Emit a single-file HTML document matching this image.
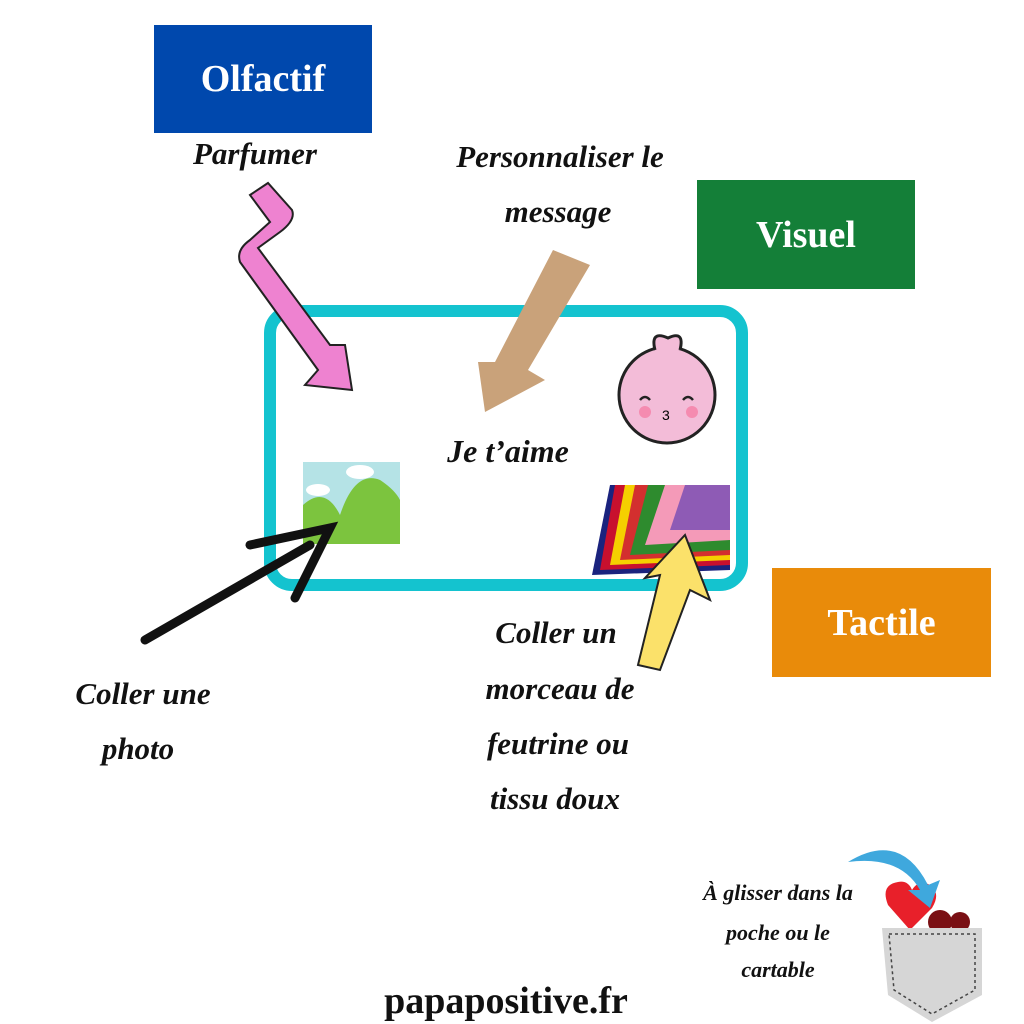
<!DOCTYPE html>
<html><head><meta charset="utf-8"><style>
body{margin:0;width:1024px;height:1024px;background:#fff;position:relative;overflow:hidden;font-family:"Liberation Serif",serif}
.b{position:absolute;color:#fff;font-weight:bold;font-size:38px;display:flex;align-items:center;justify-content:center}
.t{position:absolute;transform:translateX(-50%);white-space:nowrap;font-style:italic;font-weight:bold;color:#111;font-size:31px;font-family:"Liberation Serif",serif;line-height:1}
</style></head><body>
<div class="b" style="left:154px;top:25px;width:218px;height:108px;background:#0048ad">Olfactif</div>
<div class="b" style="left:697px;top:180px;width:218px;height:109px;background:#147f38">Visuel</div>
<div class="b" style="left:772px;top:568px;width:219px;height:109px;background:#e98b0a">Tactile</div>
<svg width="1024" height="1024" style="position:absolute;left:0;top:0">
<rect x="270" y="311" width="472" height="274" rx="22" fill="none" stroke="#14c3cf" stroke-width="12"/>
<path d="M250 195 L268 183 L292 210 Q296 220 280 232 L258 248 L330 345 L345 345 L352 390 L305 385 L318 370 L240 262 Q236 250 250 240 L270 222Z" fill="#ee82d0" stroke="#222" stroke-width="2"/>
<path d="M553 250 L590 265 L528 370 L545 380 L485 412 L478 362 L495 362Z" fill="#c9a27a"/>
<circle cx="667" cy="395" r="48" fill="#f3bcd8" stroke="#222" stroke-width="3"/>
<path d="M655 350 Q650 330 668 338 Q685 330 680 350" fill="#f3bcd8" stroke="#222" stroke-width="3"/>
<circle cx="645" cy="412" r="6" fill="#f58bb0"/><circle cx="692" cy="412" r="6" fill="#f58bb0"/>
<path d="M640 400 q5 -6 10 0 M683 400 q5 -6 10 0" stroke="#222" stroke-width="2.5" fill="none"/>
<text x="662" y="420" font-size="14" font-family="Liberation Sans">3</text>
<rect x="303" y="462" width="97" height="82" fill="#b5e3e6"/>
<path d="M303 544 L303 505 Q325 485 340 515 Q355 470 380 480 Q395 490 400 500 L400 544Z" fill="#7cc43e"/>
<ellipse cx="360" cy="472" rx="14" ry="7" fill="#fff"/><ellipse cx="318" cy="490" rx="12" ry="6" fill="#fff"/>
<g>
<path d="M592 575 L610 485 L730 485 L730 570Z" fill="#1a237e"/>
<path d="M600 570 L615 485 L730 485 L730 565Z" fill="#c8102e"/>
<path d="M610 565 L625 485 L730 485 L730 560Z" fill="#f5d000"/>
<path d="M620 560 L635 485 L730 485 L730 555Z" fill="#d32f2f"/>
<path d="M630 555 L648 485 L730 485 L730 550Z" fill="#2e8b2e"/>
<path d="M645 545 L665 485 L730 485 L730 540Z" fill="#f49ab8"/>
<path d="M670 530 L685 485 L730 485 L730 530Z" fill="#8e5bb5"/>
</g>
<path d="M145 640 L310 545 M250 545 L330 528 L295 598" stroke="#111" stroke-width="9" fill="none" stroke-linecap="round"/>
<path d="M638 665 L660 575 L645 578 L685 535 L710 600 L690 590 L660 670Z" fill="#fbe16a" stroke="#222" stroke-width="2"/>
<path d="M910 930 L888 905 Q880 885 898 882 Q908 880 912 890 Q918 880 928 884 Q942 892 932 908Z" fill="#e8202a"/>
<circle cx="940" cy="922" r="12" fill="#7a1014"/><circle cx="960" cy="922" r="10" fill="#7a1014"/>
<path d="M882 928 L982 928 L982 995 L932 1022 L888 995Z" fill="#d6d6d6"/>
<path d="M889 934 L975 934 L975 990 L932 1014 L894 990Z" fill="none" stroke="#444" stroke-width="1.5" stroke-dasharray="3 3"/>
<path d="M848 862 Q900 830 928 885 L940 880 L930 908 L908 890 L920 890 Q900 855 848 862Z" fill="#3fa8dd"/>
</svg>
<div class="t" style="left:255px;top:138px">Parfumer</div>
<div class="t" style="left:560px;top:141px">Personnaliser le</div>
<div class="t" style="left:558px;top:196px">message</div>
<div class="t" style="left:508px;top:435px;font-size:32px">Je t’aime</div>
<div class="t" style="left:143px;top:678px">Coller une</div>
<div class="t" style="left:138px;top:733px">photo</div>
<div class="t" style="left:556px;top:617px">Coller un</div>
<div class="t" style="left:560px;top:673px">morceau de</div>
<div class="t" style="left:558px;top:728px">feutrine ou</div>
<div class="t" style="left:555px;top:783px">tissu doux</div>
<div class="t" style="left:778px;top:882px;font-size:22px">À glisser dans la</div>
<div class="t" style="left:778px;top:922px;font-size:22px">poche ou le</div>
<div class="t" style="left:778px;top:959px;font-size:22px">cartable</div>
<div class="t" style="left:506px;top:982px;font-style:normal;font-size:38px">papapositive.fr</div>
</body></html>
